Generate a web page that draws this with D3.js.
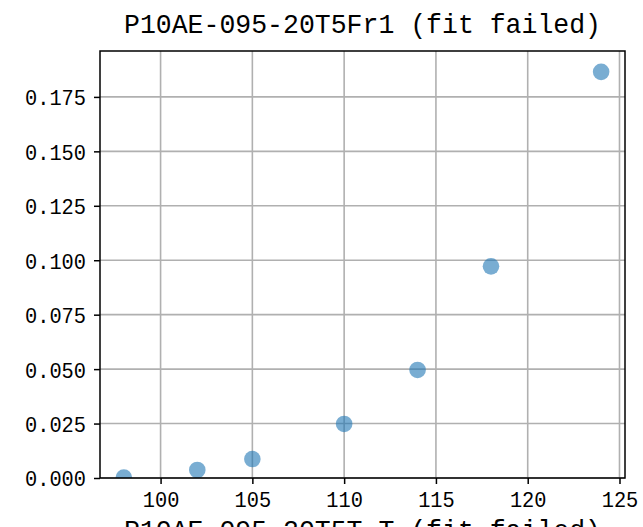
<!DOCTYPE html>
<html>
<head>
<meta charset="utf-8">
<script src="https://cdn.jsdelivr.net/npm/d3@7"></script>
<style>
  html, body { margin: 0; padding: 0; background: #fff; }
  svg { display: block; }
  text { font-family: "Liberation Mono", "DejaVu Sans Mono", monospace; fill: #000; }
</style>
</head>
<body>
<svg id="chart" width="643" height="527"></svg>
<script>
const titleText = "P10AE-095-20T5Fr1 (fit failed)";
const xLabelText = "P10AE-095-20T5T-T (fit failed)";
const xValues = [98, 102, 105, 110, 114, 118, 124];
const yValues = [0.0002, 0.0037, 0.0087, 0.0248, 0.0496, 0.0972, 0.1865];
const xTicks = [100, 105, 110, 115, 120, 125];
const yTicks = [0, 0.025, 0.05, 0.075, 0.1, 0.125, 0.15, 0.175];
const yTickLabels = ["0.000", "0.025", "0.050", "0.075", "0.100", "0.125", "0.150", "0.175"];

const svg = d3.select("#chart");
const L = 100, R = 625, T = 51, B = 478;

const x = d3.scaleLinear().domain([96.7, 125.3]).range([L, R]);
const y = d3.scaleLinear().domain([0, 0.19608]).range([B, T]);

const tickCharW = 12.2;
const tickFont = 22;

// grid
const grid = svg.append("g");
grid.selectAll("line.vx").data(xTicks).join("line")
  .attr("x1", d => x(d)).attr("x2", d => x(d))
  .attr("y1", T).attr("y2", B)
  .attr("stroke", "#b0b0b0").attr("stroke-width", 1.6);
grid.selectAll("line.hy").data(yTicks).join("line")
  .attr("y1", d => y(d)).attr("y2", d => y(d))
  .attr("x1", L).attr("x2", R)
  .attr("stroke", "#b0b0b0").attr("stroke-width", 1.6);

// points (clipped to axes)
svg.append("defs").append("clipPath").attr("id", "clip")
  .append("rect").attr("x", L).attr("y", T).attr("width", R - L).attr("height", B - T);
svg.append("g").attr("clip-path", "url(#clip)")
  .selectAll("circle").data(xValues).join("circle")
  .attr("cx", d => x(d))
  .attr("cy", (d, i) => y(yValues[i]))
  .attr("r", 8.3)
  .attr("fill", "#1f77b4").attr("fill-opacity", 0.6);

// axes using d3 axis generators
const xAxis = d3.axisBottom(x).tickValues(xTicks).tickSize(6).tickPadding(6).tickFormat(d3.format("d"));
const yAxis = d3.axisLeft(y).tickValues(yTicks).tickSize(6).tickPadding(8).tickFormat((d, i) => yTickLabels[i]);

const gx = svg.append("g").attr("transform", `translate(0,${B})`).call(xAxis);
const gy = svg.append("g").attr("transform", `translate(${L},0)`).call(yAxis);
[gx, gy].forEach(g => {
  g.select(".domain").remove();
  g.selectAll(".tick line").attr("stroke", "#000").attr("stroke-width", 1.5);
  g.selectAll(".tick text")
    .attr("font-family", "Liberation Mono")
    .attr("font-size", tickFont)
    .attr("fill", "#000")
    .attr("lengthAdjust", "spacingAndGlyphs")
    .attr("textLength", function() { return this.textContent.length * tickCharW; });
});
gx.selectAll(".tick text").attr("dy", "0.75em");
gy.selectAll(".tick text").attr("dy", "0.36em");

// spines
svg.append("rect").attr("x", L).attr("y", T).attr("width", R - L).attr("height", B - T)
  .attr("fill", "none").attr("stroke", "#000").attr("stroke-width", 1.5);

// title
svg.append("text").attr("x", (L + R) / 2).attr("y", 33)
  .attr("text-anchor", "middle").attr("font-size", 28)
  .attr("lengthAdjust", "spacingAndGlyphs").attr("textLength", titleText.length * 15.9)
  .text(titleText);

// x label (partly cut off at bottom, as in the reference)
svg.append("text").attr("x", (L + R) / 2).attr("y", 539)
  .attr("text-anchor", "middle").attr("font-size", 28)
  .attr("lengthAdjust", "spacingAndGlyphs").attr("textLength", xLabelText.length * 15.9)
  .text(xLabelText);
</script>
</body>
</html>
